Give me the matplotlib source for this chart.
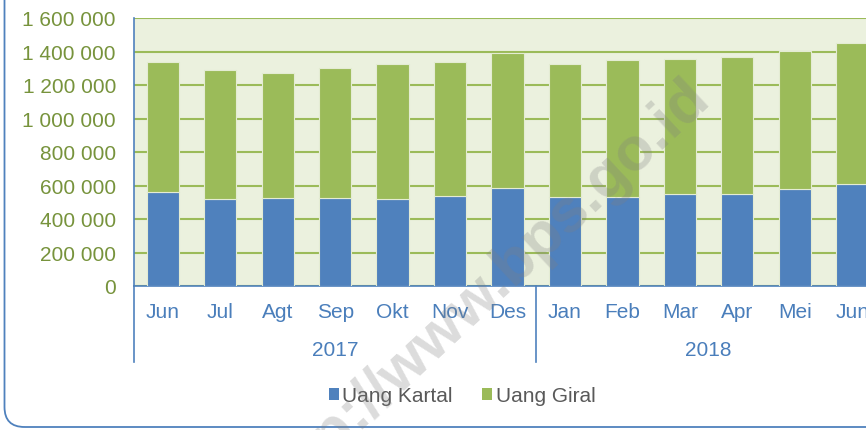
import matplotlib
matplotlib.use("Agg")
import matplotlib.pyplot as plt
import matplotlib.transforms as mtransforms
from matplotlib.patches import FancyBboxPatch, Patch
from matplotlib.lines import Line2D
import numpy as np

months = ["Jun", "Jul", "Agt", "Sep", "Okt", "Nov", "Des",
          "Jan", "Feb", "Mar", "Apr", "Mei", "Jun"]
years = ["2017", "2018"]
year_counts = [7, 6]
uang_kartal = [563000, 519000, 525000, 525000, 521000, 539000, 587000,
               533000, 533000, 549000, 549000, 581000, 607000]
uang_giral = [776000, 772000, 747000, 776000, 802000, 796000, 802000,
              790000, 816000, 808000, 820000, 820000, 844000]
yticks = [0, 200000, 400000, 600000, 800000, 1000000, 1200000, 1400000, 1600000]

BLUE = "#4F81BD"
GREEN = "#9BBB59"
BG = "#EBF1DE"
YLAB = "#77933C"
XLAB = "#4A7EBB"
FS = 15

plt.rcParams['font.family'] = ['Liberation Sans', 'DejaVu Sans']

W, H = 866, 431
fig = plt.figure(figsize=(W / 100, H / 100), dpi=100)

# outer rounded frame (extends past top/right edges)
frame = FancyBboxPatch((4.5 / 100, 3 / 100), 12, 8,
                       boxstyle="round,pad=0,rounding_size=0.2",
                       transform=fig.dpi_scale_trans, facecolor="none",
                       edgecolor=BLUE, linewidth=1.3, zorder=0)
fig.patches.append(frame)

ax_l = 134 / W
ax_b = 1 - 287 / H
ax_w = (881 - 134) / W
ax_h = (287 - 19) / H
ax = fig.add_axes([ax_l, ax_b, ax_w, ax_h])
ax.set_facecolor(BG)

x = np.arange(len(months))
ax.bar(x, uang_kartal, width=0.56, color=BLUE, edgecolor="#E4ECD3",
       linewidth=0.8, zorder=3, label="Uang Kartal")
ax.bar(x, uang_giral, width=0.56, bottom=uang_kartal, color=GREEN,
       edgecolor="#E4ECD3", linewidth=0.8, zorder=3, label="Uang Giral")

ax.set_xlim(-0.5, len(months) - 0.5)
ax.set_ylim(0, 1600000)
ax.set_yticks(yticks)
ax.set_yticklabels([f"{v:,}".replace(",", " ") for v in yticks],
                   color=YLAB, fontsize=FS)
ax.yaxis.grid(True, color=GREEN, linewidth=1.5, zorder=1)
ax.set_axisbelow(True)
ax.tick_params(axis="y", length=0, pad=13)

ax.set_xticks(x)
ax.set_xticklabels([])
ax.tick_params(axis="x", length=0)

for s in ["top", "right"]:
    ax.spines[s].set_visible(False)
ax.spines["left"].set_color(BLUE)
ax.spines["left"].set_linewidth(1.2)
ax.spines["bottom"].set_color(BLUE)
ax.spines["bottom"].set_linewidth(1.2)

# multi-level category axis: month labels, separators and year labels
trans = mtransforms.blended_transform_factory(ax.transData, ax.transAxes)
ph = 287 - 19
for xi, m in zip(x, months):
    ax.text(xi, -(312 - 287) / ph, m, transform=trans, ha="center",
            va="center", color=XLAB, fontsize=FS)
sep_bottom = -(363 - 287) / ph
start = -0.5
for yr, n in zip(years, year_counts):
    end = start + n
    ax.add_line(Line2D([start, start], [0, sep_bottom], transform=trans,
                       color=BLUE, linewidth=1.2, clip_on=False))
    ax.text((start + end) / 2, -(350 - 287) / ph, yr,
            transform=trans, ha="center", va="center", color=XLAB,
            fontsize=FS)
    start = end
ax.add_line(Line2D([start, start], [0, sep_bottom], transform=trans,
                   color=BLUE, linewidth=1.2, clip_on=False))

handles = [Patch(facecolor=BLUE, edgecolor="none", label="Uang Kartal"),
           Patch(facecolor=GREEN, edgecolor="none", label="Uang Giral")]
leg = fig.legend(handles=handles, loc="center", bbox_to_anchor=(462 / W, 1 - 397 / H),
                 ncol=2, frameon=False, fontsize=FS, handlelength=0.5,
                 handleheight=0.5, handletextpad=0.15, columnspacing=1.4)
for t in leg.get_texts():
    t.set_color("#595959")

# watermark
fig.text(712 / W, 1 - 100 / H, "http://www.bps.go.id", rotation=43,
         rotation_mode="anchor", ha="right", va="baseline",
         fontsize=44, fontweight="bold",
         color="#808080", alpha=0.28, zorder=10)

fig.savefig("out.png", dpi=100)
